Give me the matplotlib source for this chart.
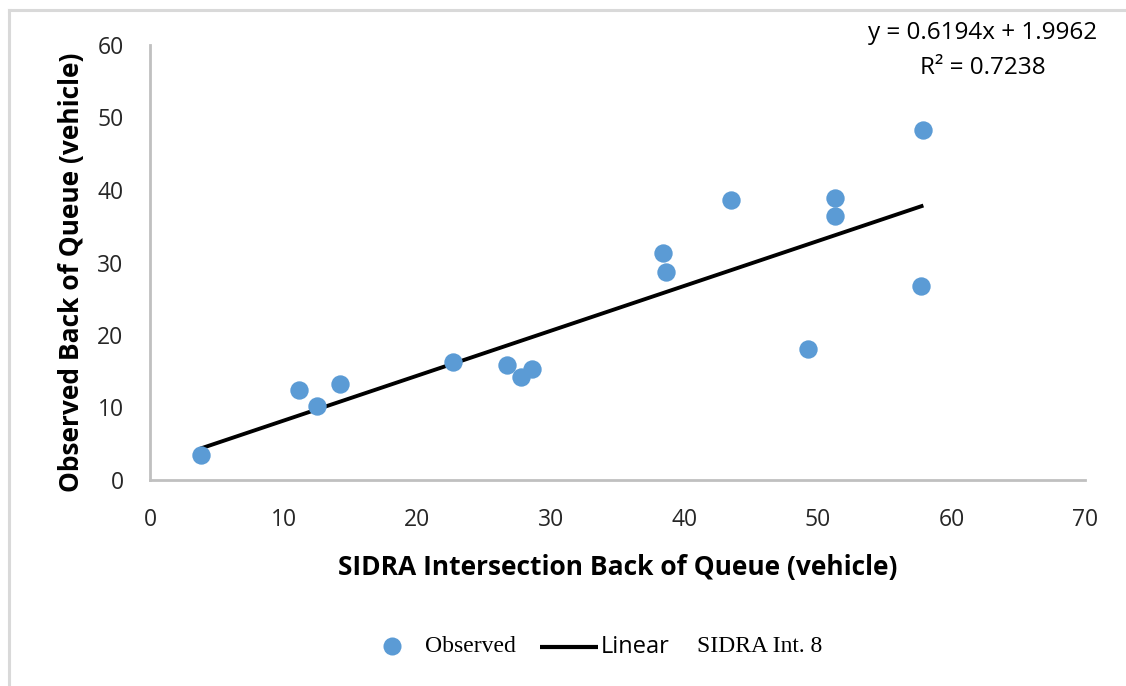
import matplotlib
matplotlib.use("Agg")
import matplotlib.pyplot as plt
from matplotlib.lines import Line2D
import numpy as np

sidra = [3.8, 11.15, 12.5, 14.2, 22.7, 26.7, 27.8, 28.6, 38.4, 38.6, 43.5, 49.25, 51.3, 51.3, 57.7, 57.9]
observed = [3.4, 12.4, 10.2, 13.2, 16.3, 15.9, 14.2, 15.3, 31.3, 28.7, 38.6, 18.1, 38.9, 36.4, 26.8, 48.3]
slope = 0.6194
intercept = 1.9962
r2 = 0.7238
xticks = [0, 10, 20, 30, 40, 50, 60, 70]
yticks = [0, 10, 20, 30, 40, 50, 60]

W, H = 1126, 686
fig = plt.figure(figsize=(W / 100, H / 100), dpi=100)
ax = fig.add_axes([150 / W, 1 - 480 / H, (1085 - 150) / W, (480 - 45) / H])

def fx(px):
    return px / W

def fy(py):
    return 1 - py / H

blue = "#5B9BD5"
ax.scatter(sidra, observed, s=175, color=blue, zorder=3, linewidths=0)
xl = np.array([min(sidra), max(sidra)])
ax.plot(xl, slope * xl + intercept, color="black", lw=2.8, zorder=2, solid_capstyle="butt")

ax.set_xlim(0, 70)
ax.set_ylim(0, 60)
ax.set_xticks(xticks)
ax.set_yticks(yticks)
sans = ["Open Sans", "DejaVu Sans"]
serif = ["Liberation Serif", "DejaVu Serif"]
for lab in ax.get_xticklabels() + ax.get_yticklabels():
    lab.set_fontfamily(sans)
    lab.set_fontsize(16.5)
    lab.set_color("#262626")
ax.tick_params(axis="x", length=0, pad=20)
ax.tick_params(axis="y", length=0, pad=19)
for s in ["top", "right"]:
    ax.spines[s].set_visible(False)
for s in ["left", "bottom"]:
    ax.spines[s].set_color("#C0C0C0")
    ax.spines[s].set_linewidth(2)

ax.set_xlabel("SIDRA Intersection Back of Queue (vehicle)", fontsize=19, fontweight="bold",
              family=sans, labelpad=16)
ax.set_ylabel("Observed Back of Queue (vehicle)", fontsize=19, fontweight="bold",
              family=sans)
ax.yaxis.label.set_verticalalignment("center")
ax.yaxis.set_label_coords((72 - 150) / 935, (480 - 272) / 435)

fig.text(fx(983), fy(33), f"y = {slope}x + {intercept}", ha="center", va="center",
         fontsize=17.5, family=sans)
fig.text(fx(983), fy(68), f"R² = {r2}", ha="center", va="center",
         fontsize=17.5, family=sans)

# legend (placed manually)
fig.add_artist(Line2D([fx(392)], [fy(646)], marker="o", ls="none", color=blue,
                      markersize=13, markeredgewidth=0))
fig.text(fx(425), fy(646), "Observed", ha="left", va="center", fontsize=17, family=serif)
fig.add_artist(Line2D([fx(540), fx(598)], [fy(647), fy(647)], color="black", lw=3,
                      solid_capstyle="butt"))
fig.text(fx(601), fy(647), "Linear", ha="left", va="center", fontsize=17, family=sans)
fig.text(fx(697), fy(646), "SIDRA Int. 8", ha="left", va="center", fontsize=17, family=serif)

# chart frame lines (top and left)
fig.add_artist(Line2D([fx(9), 1], [fy(10), fy(10)], color="#D9D9D9", lw=2.2))
fig.add_artist(Line2D([fx(9), fx(9)], [0, fy(10)], color="#D9D9D9", lw=2.2))

fig.savefig("out.png", dpi=100)
